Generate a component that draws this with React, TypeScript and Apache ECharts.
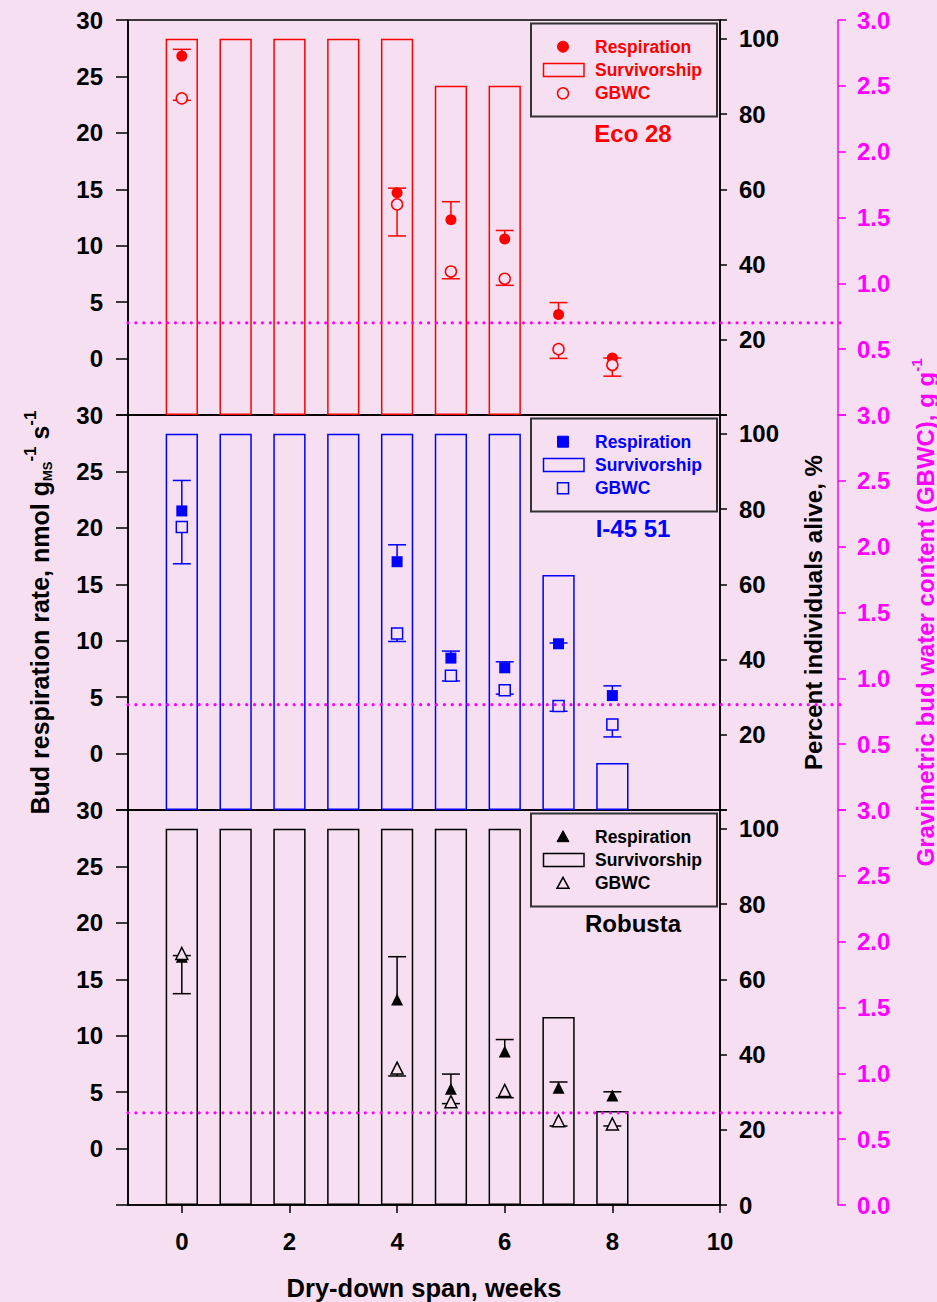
import React, { useEffect, useRef } from "react";
import * as echarts from "echarts";

// ---------- data ----------
const weeks = [0, 1, 2, 3, 4, 5, 6, 7, 8];
const measuredWeeks = [0, 4, 5, 6, 7, 8];
const xTickValues = [0, 2, 4, 6, 8, 10];

const eco28Survival = [100, 100, 100, 100, 100, 87.5, 87.5, null, null];
const i4551Survival = [100, 100, 100, 100, 100, 100, 100, 62.5, 12.5];
const robustaSurvival = [100, 100, 100, 100, 100, 100, 100, 50, 25];

const eco28Resp = [26.8, 14.7, 12.3, 10.6, 3.9, 0.05];
const eco28RespErr = [27.4, 15.1, 13.9, 11.35, 4.96, 0.05];
const eco28Gbwc = [2.405, 1.6, 1.09, 1.035, 0.5, 0.38];
const eco28GbwcErr = [2.39, 1.36, 1.035, 0.985, 0.43, 0.295];

const i4551Resp = [21.5, 17.0, 8.46, 7.6, 9.73, 5.14];
const i4551RespErr = [24.2, 18.5, 9.08, 8.13, 9.8, 6.0];
const i4551Gbwc = [2.15, 1.34, 1.02, 0.91, 0.79, 0.65];
const i4551GbwcErr = [1.87, 1.28, 0.98, 0.88, 0.75, 0.555];

const robustaResp = [17.0, 13.2, 5.3, 8.6, 5.4, 4.7];
const robustaRespErr = [17.1, 17.0, 6.6, 9.66, 5.9, 5.03];
const robustaGbwc = [1.91, 1.04, 0.785, 0.87, 0.64, 0.615];
const robustaGbwcErr = [1.605, 0.98, 0.77, 0.815, 0.6, 0.6];

const gbwcThreshold = [0.7, 0.8, 0.7];

const panelNames = ["Eco 28", "I-45 51", "Robusta"];
const legendLabels = ["Respiration", "Survivorship", "GBWC"];
const xTitle = "Dry-down span, weeks";
const rightTitle = "Percent individuals alive, %";

// ---------- style ----------
const BG = "#F5DFF0";
const MAGENTA = "#FF00FF";
const FONT = "'Liberation Sans', Arial, Helvetica, sans-serif";
const GRID_LEFT = 128;
const GRID_W = 592;
const GRID_TOP = 20;
const GRID_H = 395;
const PINK_OFFSET = 118;

type Panel = {
  name: string;
  color: string;
  symbol: "circle" | "rect" | "triangle";
  survival: (number | null)[];
  resp: number[];
  respErr: number[];
  gbwc: number[];
  gbwcErr: number[];
};

const panels: Panel[] = [
  { name: panelNames[0], color: "#FF0000", symbol: "circle", survival: eco28Survival, resp: eco28Resp, respErr: eco28RespErr, gbwc: eco28Gbwc, gbwcErr: eco28GbwcErr },
  { name: panelNames[1], color: "#0000FF", symbol: "rect", survival: i4551Survival, resp: i4551Resp, respErr: i4551RespErr, gbwc: i4551Gbwc, gbwcErr: i4551GbwcErr },
  { name: panelNames[2], color: "#000000", symbol: "triangle", survival: robustaSurvival, resp: robustaResp, respErr: robustaRespErr, gbwc: robustaGbwc, gbwcErr: robustaGbwcErr },
];

function errorSeries(i: number, yAxisIndex: number, vals: number[], errs: number[], color: string) {
  return {
    type: "custom",
    xAxisIndex: i,
    yAxisIndex,
    z: 3,
    encode: { x: 0, y: [1, 2] },
    data: measuredWeeks.map((w, k) => [w, vals[k], errs[k]]),
    renderItem: (params: any, api: any) => {
      const x = api.value(0);
      const a = api.coord([x, api.value(1)]);
      const b = api.coord([x, api.value(2)]);
      return {
        type: "group",
        children: [
          { type: "line", shape: { x1: a[0], y1: a[1], x2: b[0], y2: b[1] }, style: { stroke: color, lineWidth: 1.5 } },
          { type: "line", shape: { x1: b[0] - 9, y1: b[1], x2: b[0] + 9, y2: b[1] }, style: { stroke: color, lineWidth: 1.5 } },
        ],
      };
    },
  };
}

function legendMarker(sym: string, cx: number, cy: number, color: string, filled: boolean) {
  const style = filled
    ? { fill: color, stroke: color, lineWidth: 1 }
    : { fill: BG, stroke: color, lineWidth: 1.5 };
  if (sym === "circle") return { type: "circle", shape: { cx, cy, r: 5.5 }, style };
  if (sym === "rect") return { type: "rect", shape: { x: cx - 5.5, y: cy - 5.5, width: 11, height: 11 }, style };
  return { type: "polygon", shape: { points: [[cx, cy - 6], [cx + 6, cy + 5], [cx - 6, cy + 5]] }, style };
}

export default function App() {
  const ref = useRef<HTMLDivElement>(null);

  useEffect(() => {
    if (!ref.current) return;
    const chart = echarts.init(ref.current, undefined, { renderer: "svg" });

    const grids = panels.map((_, i) => ({
      left: GRID_LEFT,
      width: GRID_W,
      top: GRID_TOP + GRID_H * i,
      height: GRID_H,
      show: true,
      borderColor: "#000",
      borderWidth: 1.5,
      backgroundColor: "transparent",
      containLabel: false,
    }));

    const labelBase = { fontSize: 24, fontWeight: "bold", fontFamily: FONT };

    const xAxes = panels.map((_, i) => ({
      type: "value",
      gridIndex: i,
      position: "bottom",
      min: -1,
      max: 10,
      axisLine: { show: true, onZero: false, lineStyle: { color: "#000", width: 1.5 } },
      axisTick: { show: i === 2, length: 8, customValues: xTickValues, lineStyle: { color: "#000", width: 1.5 } },
      axisLabel: {
        show: i === 2,
        ...labelBase,
        color: "#000",
        margin: 24,
        customValues: xTickValues,
        formatter: (v: number) => String(v),
      },
      splitLine: { show: false },
    }));

    const yAxes: any[] = [];
    panels.forEach((_, i) => {
      yAxes.push({
        type: "value",
        gridIndex: i,
        position: "left",
        min: -5,
        max: 30,
        interval: 5,
        axisLine: { show: true, onZero: false, lineStyle: { color: "#000", width: 1.5 } },
        axisTick: { show: true, length: 12, lineStyle: { color: "#000", width: 1.5 } },
        axisLabel: { ...labelBase, color: "#000", margin: 25, formatter: (v: number) => (v < 0 ? "" : String(v)) },
        splitLine: { show: false },
      });
      yAxes.push({
        type: "value",
        gridIndex: i,
        position: "right",
        min: 0,
        max: 105,
        interval: 20,
        axisLine: { show: true, onZero: false, lineStyle: { color: "#000", width: 1.5 } },
        axisTick: { show: true, length: 7, lineStyle: { color: "#000", width: 1.5 } },
        axisLabel: {
          ...labelBase,
          color: "#000",
          margin: 19,
          formatter: (v: number) => ((v === 0 && i < 2) || v > 100 ? "" : String(v)),
        },
        splitLine: { show: false },
      });
      yAxes.push({
        type: "value",
        gridIndex: i,
        position: "right",
        offset: PINK_OFFSET,
        min: 0,
        max: 3,
        interval: 0.5,
        axisLine: { show: true, onZero: false, lineStyle: { color: MAGENTA, width: 1.5 } },
        axisTick: { show: true, length: 8, lineStyle: { color: MAGENTA, width: 1.5 } },
        axisLabel: {
          ...labelBase,
          color: MAGENTA,
          margin: 19,
          formatter: (v: number) => (v === 0 && i < 2 ? "" : v.toFixed(1)),
        },
        splitLine: { show: false },
      });
    });

    const series: any[] = [];
    panels.forEach((p, i) => {
      series.push({
        type: "bar",
        name: legendLabels[1],
        xAxisIndex: i,
        yAxisIndex: 3 * i + 1,
        barWidth: "60%",
        z: 1,
        data: weeks.map((w, k) => [w, p.survival[k]]).filter((d) => d[1] != null),
        itemStyle: { color: "rgba(0,0,0,0)", borderColor: p.color, borderWidth: 1.5 },
      });
      series.push(errorSeries(i, 3 * i, p.resp, p.respErr, p.color));
      series.push(errorSeries(i, 3 * i + 2, p.gbwc, p.gbwcErr, p.color));
      series.push({
        type: "scatter",
        name: legendLabels[0],
        xAxisIndex: i,
        yAxisIndex: 3 * i,
        symbol: p.symbol,
        symbolSize: p.symbol === "triangle" ? 12 : 11,
        z: 4,
        data: measuredWeeks.map((w, k) => [w, p.resp[k]]),
        itemStyle: { color: p.color, opacity: 1 },
      });
      series.push({
        type: "scatter",
        name: legendLabels[2],
        xAxisIndex: i,
        yAxisIndex: 3 * i + 2,
        symbol: p.symbol,
        symbolSize: p.symbol === "triangle" ? 12 : 11,
        z: 5,
        data: measuredWeeks.map((w, k) => [w, p.gbwc[k]]),
        itemStyle: { color: BG, borderColor: p.color, borderWidth: 1.5, opacity: 1 },
      });
    });

    chart.setOption({
      animation: false,
      backgroundColor: BG,
      grid: grids,
      xAxis: xAxes,
      yAxis: yAxes,
      series,
    });

    // graphics: threshold lines, legends, titles
    const graphics: any[] = [];
    panels.forEach((p, i) => {
      const y = chart.convertToPixel({ yAxisIndex: 3 * i + 2 } as any, gbwcThreshold[i]) as number;
      const x1 = chart.convertToPixel({ xAxisIndex: i } as any, -1) as number;
      const x2 = (chart.convertToPixel({ xAxisIndex: i } as any, 10) as number) + PINK_OFFSET + 2;
      graphics.push({
        type: "line",
        z: 10,
        shape: { x1, y1: y, x2, y2: y },
        style: { stroke: MAGENTA, lineWidth: 3.2, lineDash: [0.01, 7.9], lineCap: "round" },
      });

      const T = GRID_TOP + GRID_H * i;
      const lx = 531;
      graphics.push({
        type: "rect",
        z: 10,
        shape: { x: lx, y: T + 3.5, width: 186, height: 93 },
        style: { fill: "none", stroke: "#333", lineWidth: 2 },
      });
      graphics.push({ ...legendMarker(p.symbol, 563, T + 26.7, p.color, true), z: 11 });
      graphics.push({
        type: "rect",
        z: 11,
        shape: { x: 543.5, y: T + 43.5, width: 40.5, height: 13 },
        style: { fill: "none", stroke: p.color, lineWidth: 1.5 },
      });
      graphics.push({ ...legendMarker(p.symbol, 563, T + 73.3, p.color, false), z: 11 });
      legendLabels.forEach((lab, k) => {
        graphics.push({
          type: "text",
          z: 11,
          x: 595,
          y: T + 26.7 + 23.3 * k,
          style: {
            text: lab,
            fontSize: 17.5,
            fontWeight: "bold",
            fontFamily: FONT,
            fill: p.color,
            align: "left",
            verticalAlign: "middle",
          },
        });
      });
      graphics.push({
        type: "text",
        z: 11,
        x: 633,
        y: T + 113,
        style: {
          text: p.name,
          fontSize: 24,
          fontWeight: "bold",
          fontFamily: FONT,
          fill: p.color,
          align: "center",
          verticalAlign: "middle",
        },
      });
    });

    const midY = GRID_TOP + (GRID_H * 3) / 2;
    graphics.push({
      type: "text",
      x: 424,
      y: 1288,
      style: { text: xTitle, fontSize: 25.5, fontWeight: "bold", fontFamily: FONT, fill: "#000", align: "center", verticalAlign: "middle" },
    });
    graphics.push({
      type: "text",
      x: 813,
      y: midY,
      rotation: Math.PI / 2,
      style: { text: rightTitle, fontSize: 24, fontWeight: "bold", fontFamily: FONT, fill: "#000", align: "center", verticalAlign: "middle" },
    });
    graphics.push({
      type: "text",
      x: 40,
      y: midY,
      rotation: Math.PI / 2,
      style: {
        text: "{m|Bud respiration rate, nmol g}{sub|MS}{sup|-1}{m| s}{sup|-1}",
        fill: "#000",
        align: "center",
        verticalAlign: "middle",
        fontFamily: FONT,
        fontWeight: "bold",
        rich: {
          m: { fontSize: 25, fontWeight: "bold", fontFamily: FONT, fill: "#000", lineHeight: 40, verticalAlign: "middle" },
          sub: { fontSize: 13, fontWeight: "bold", fontFamily: FONT, fill: "#000", lineHeight: 40, verticalAlign: "bottom", padding: [0, 0, 6, 0] },
          sup: { fontSize: 17, fontWeight: "bold", fontFamily: FONT, fill: "#000", lineHeight: 40, verticalAlign: "top", padding: [2, 0, 0, 0] },
        },
      },
    });
    graphics.push({
      type: "text",
      x: 925,
      y: midY,
      rotation: Math.PI / 2,
      style: {
        text: "{m|Gravimetric bud water content (GBWC), g g}{sup|-1}",
        fill: MAGENTA,
        align: "center",
        verticalAlign: "middle",
        fontFamily: FONT,
        fontWeight: "bold",
        rich: {
          m: { fontSize: 24, fontWeight: "bold", fontFamily: FONT, fill: MAGENTA, lineHeight: 36, verticalAlign: "middle" },
          sup: { fontSize: 15, fontWeight: "bold", fontFamily: FONT, fill: MAGENTA, lineHeight: 36, verticalAlign: "top", padding: [2, 0, 0, 0] },
        },
      },
    });

    chart.setOption({ graphic: graphics });

    return () => chart.dispose();
  }, []);

  return (
    <div style={{ position: "absolute", left: 0, top: 0, width: 937, height: 1302, background: BG }}>
      <div ref={ref} style={{ width: 937, height: 1302 }} />
    </div>
  );
}
